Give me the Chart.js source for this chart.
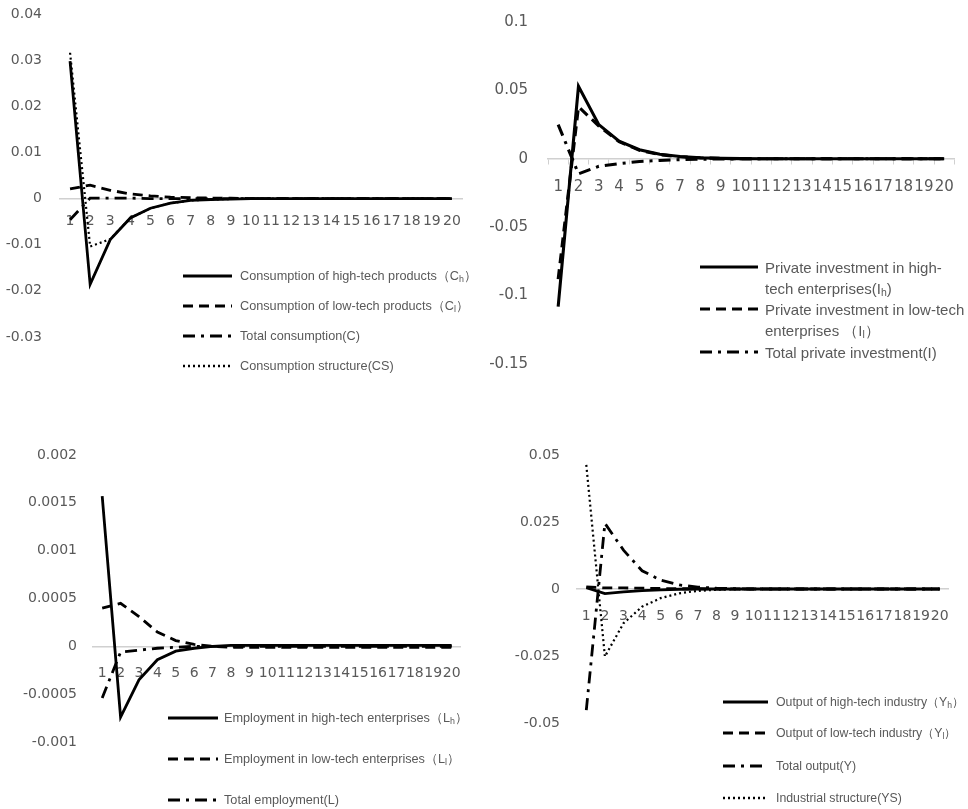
<!DOCTYPE html>
<html>
<head>
<meta charset="utf-8">
<script src="https://cdn.jsdelivr.net/npm/chart.js@4.4.0/dist/chart.umd.min.js"></script>
<style>
  body { margin: 0; background: #fff; width: 968px; height: 809px; position: relative; overflow: hidden;
         font-family: "Liberation Sans", Arial, sans-serif; }
  .panel { position: absolute; }
  .lrow { position: absolute; height: 0; color: #595959; white-space: nowrap; }
  .lrow svg { position: absolute; left: 0; }
  .lrow span { position: absolute; }
  .lrow sub { font-size: 70%; vertical-align: -2px; }
</style>
</head>
<body>
<div class="panel" style="left:0;top:0;width:480px;height:400px"><canvas id="c1"></canvas></div>
<div class="panel" style="left:480px;top:0;width:488px;height:400px"><canvas id="c2"></canvas></div>
<div class="panel" style="left:0;top:400px;width:480px;height:409px"><canvas id="c3"></canvas></div>
<div class="panel" style="left:480px;top:400px;width:488px;height:409px"><canvas id="c4"></canvas></div>

<script>
// periods after the shock
const periods = ['1','2','3','4','5','6','7','8','9','10','11','12','13','14','15','16','17','18','19','20'];

// consumption
const consHigh   = [0.0298, -0.0186, -0.0089, -0.0042, -0.0021, -0.0010, -0.0004, -0.0002, -0.0001, 0, 0, 0, 0, 0, 0, 0, 0, 0, 0, 0];
const consLow    = [0.0021, 0.0029, 0.0018, 0.0010, 0.0006, 0.0003, 0.0002, 0.0001, 0.0001, 0, 0, 0, 0, 0, 0, 0, 0, 0, 0, 0];
const consTotal  = [-0.0046, 0.0001, 0.0001, 0.0001, 0, 0, 0, 0, 0, 0, 0, 0, 0, 0, 0, 0, 0, 0, 0, 0];
const consStruct = [0.0316, -0.0104, -0.0088, -0.0042, -0.0021, -0.0010, -0.0004, -0.0002, -0.0001, 0, 0, 0, 0, 0, 0, 0, 0, 0, 0, 0];

// private investment
const invHigh  = [-0.108, 0.053, 0.025, 0.0128, 0.0066, 0.0033, 0.0017, 0.0008, 0.0003, 0.0001, 0, 0, 0, 0, 0, 0, 0, 0, 0, 0];
const invLow   = [-0.088, 0.038, 0.024, 0.0125, 0.0062, 0.0030, 0.0015, 0.0007, 0.0003, 0.0001, 0, 0, 0, 0, 0, 0, 0, 0, 0, 0];
const invTotal = [0.025, -0.011, -0.0055, -0.0035, -0.0020, -0.0012, -0.0006, -0.0003, -0.0001, 0, 0, 0, 0, 0, 0, 0, 0, 0, 0, 0];

// employment
const empHigh  = [0.00157, -0.00074, -0.00035, -0.00014, -0.00005, -0.00002, 0, 0.00001, 0.00001, 0.00001, 0.00001, 0.00001, 0.00001, 0.00001, 0.00001, 0.00001, 0.00001, 0.00001, 0.00001, 0.00001];
const empLow   = [0.00040, 0.00045, 0.00031, 0.00015, 0.00006, 0.00002, 0, -0.00001, -0.00001, -0.00001, -0.00001, -0.00001, -0.00001, -0.00001, -0.00001, -0.00001, -0.00001, -0.00001, -0.00001, -0.00001];
const empTotal = [-0.00054, -0.00006, -0.00004, -0.00002, -0.00001, 0, 0, 0, 0, 0, 0, 0, 0, 0, 0, 0, 0, 0, 0, 0];

// output
const outHigh   = [0.0005, -0.0017, -0.0011, -0.0006, -0.0003, -0.0001, 0, 0, 0, 0, 0, 0, 0, 0, 0, 0, 0, 0, 0, 0];
const outLow    = [0.0008, 0.0004, 0.0004, 0.0003, 0.0002, 0.0001, 0.0001, 0, 0, 0, 0, 0, 0, 0, 0, 0, 0, 0, 0, 0];
const outTotal  = [-0.0452, 0.0245, 0.0145, 0.0068, 0.0033, 0.0015, 0.0007, 0.0003, 0.0001, 0, 0, 0, 0, 0, 0, 0, 0, 0, 0, 0];
const indStruct = [0.0463, -0.0252, -0.0128, -0.0066, -0.0034, -0.0016, -0.0007, -0.0003, -0.0001, 0, 0, 0, 0, 0, 0, 0, 0, 0, 0, 0];

const GRAY = '#595959';
const AXIS = '#d0d0d0';
const LINE = {
  solid:   { w: 2.8, dash: [] },
  dashed:  { w: 2.8, dash: [10, 6] },
  dashdot: { w: 2.8, dash: [12, 6, 3, 6] },
  dotted:  { w: 2.2, dash: [2, 3] },
};

const fmtTick = v => String(Math.round(v * 1e5) / 1e5);

// keep chart area exactly where the layout padding puts it
const noEdgePad = s => { s.paddingTop = 0; s.paddingBottom = 0; };

function lineChart(id, series, y, lay) {
  new Chart(document.getElementById(id), {
    type: 'line',
    data: {
      labels: periods,
      datasets: series.map(s => ({
        data: s.data,
        borderColor: '#000',
        borderWidth: LINE[s.style].w * (lay.lw || 1),
        borderDash: LINE[s.style].dash,
        pointRadius: 0,
        tension: 0,
        fill: false,
      }))
    },
    options: {
      responsive: true,
      maintainAspectRatio: false,
      animation: false,
      layout: { padding: lay.pad },
      plugins: { legend: { display: false }, tooltip: { enabled: false } },
      scales: {
        x: {
          type: 'category',
          position: { y: 0 },
          offset: true,
          afterFit: noEdgePad,
          grid: { display: lay.ticks, drawOnChartArea: false, drawTicks: lay.ticks, tickLength: 5, offset: true, color: AXIS },
          border: { display: true, color: AXIS, width: 1.5 },
          ticks: { autoSkip: false, maxRotation: 0, minRotation: 0, padding: lay.xPad, color: GRAY,
                   font: { family: 'DejaVu Sans', size: lay.fx } }
        },
        y: {
          min: y.min, max: y.max,
          afterFit: s => { s.width = lay.yW; noEdgePad(s); },
          grid: { display: false, drawTicks: false },
          border: { display: false },
          ticks: { stepSize: y.step, padding: lay.yPad, color: GRAY,
                   font: { family: 'DejaVu Sans', size: lay.fy }, callback: v => fmtTick(v) }
        }
      }
    }
  });
}

function addLegend(items, L) {
  items.forEach((it, i) => {
    const st = LINE[it.style];
    const row = document.createElement('div');
    row.className = 'lrow';
    row.style.left = L.x + 'px';
    row.style.top = L.rows[i] + 'px';
    row.innerHTML =
      `<svg width="${L.w}" height="8" style="top:-4px"><line x1="0" y1="4" x2="${L.w}" y2="4" stroke="#000" stroke-width="${st.w + 0.3}" stroke-dasharray="${st.dash.join(' ') || 'none'}"/></svg>` +
      `<span style="left:${L.gap}px;font-size:${L.fs}px;line-height:${L.lh}px;top:${-L.lh / 2}px">${it.label}</span>`;
    document.body.appendChild(row);
  });
}

lineChart('c1', [
  { data: consHigh, style: 'solid' },
  { data: consLow, style: 'dashed' },
  { data: consTotal, style: 'dashdot' },
  { data: consStruct, style: 'dotted' },
], { min: -0.03, max: 0.04, step: 0.01 },
   { pad: { left: 0, right: 18, top: 14, bottom: 63 }, yW: 60, yPad: 18, xPad: 14, ticks: false, fx: 14, fy: 14 });

lineChart('c2', [
  { data: invHigh, style: 'solid' },
  { data: invLow, style: 'dashed' },
  { data: invTotal, style: 'dashdot' },
], { min: -0.15, max: 0.1, step: 0.05 },
   { pad: { left: 0, right: 10, top: 22, bottom: 36 }, yW: 68, yPad: 20, xPad: 14, ticks: true, fx: 15, fy: 15, lw: 1.1 });

lineChart('c3', [
  { data: empHigh, style: 'solid' },
  { data: empLow, style: 'dashed' },
  { data: empTotal, style: 'dashdot' },
], { min: -0.001, max: 0.002, step: 0.0005 },
   { pad: { left: 0, right: 18, top: 55, bottom: 67 }, yW: 93, yPad: 16, xPad: 19, ticks: false, fx: 14, fy: 14 });

lineChart('c4', [
  { data: outHigh, style: 'solid' },
  { data: outLow, style: 'dashed' },
  { data: outTotal, style: 'dashdot' },
  { data: indStruct, style: 'dotted' },
], { min: -0.05, max: 0.05, step: 0.025 },
   { pad: { left: 0, right: 18, top: 55, bottom: 86 }, yW: 97, yPad: 17, xPad: 19, ticks: false, fx: 14, fy: 14 });

addLegend([
  { style: 'solid',   label: 'Consumption of high-tech products（C<sub>h</sub>）' },
  { style: 'dashed',  label: 'Consumption of low-tech products（C<sub>l</sub>）' },
  { style: 'dashdot', label: 'Total consumption(C)' },
  { style: 'dotted',  label: 'Consumption structure(CS)' },
], { x: 183, rows: [276, 306, 336, 366], w: 49, gap: 57, fs: 12.7, lh: 16 });

addLegend([
  { style: 'solid',   label: 'Private investment in high-<br>tech enterprises(I<sub>h</sub>)' },
  { style: 'dashed',  label: 'Private investment in low-tech<br>enterprises （I<sub>l</sub>）' },
  { style: 'dashdot', label: 'Total private investment(I)' },
], { x: 700, rows: [267, 309, 352], w: 58, gap: 65, fs: 15, lh: 21 });

addLegend([
  { style: 'solid',   label: 'Employment in high-tech enterprises（L<sub>h</sub>）' },
  { style: 'dashed',  label: 'Employment in low-tech enterprises（L<sub>l</sub>）' },
  { style: 'dashdot', label: ' Total employment(L)' },
], { x: 168, rows: [718, 759, 800], w: 50, gap: 56, fs: 12.7, lh: 16 });

addLegend([
  { style: 'solid',   label: 'Output of high-tech industry（Y<sub>h</sub>）' },
  { style: 'dashed',  label: 'Output of low-tech industry（Y<sub>l</sub>）' },
  { style: 'dashdot', label: 'Total output(Y)' },
  { style: 'dotted',  label: 'Industrial structure(YS)' },
], { x: 723, rows: [702, 733, 766, 798], w: 45, gap: 53, fs: 12.3, lh: 16 });
</script>
</body>
</html>
